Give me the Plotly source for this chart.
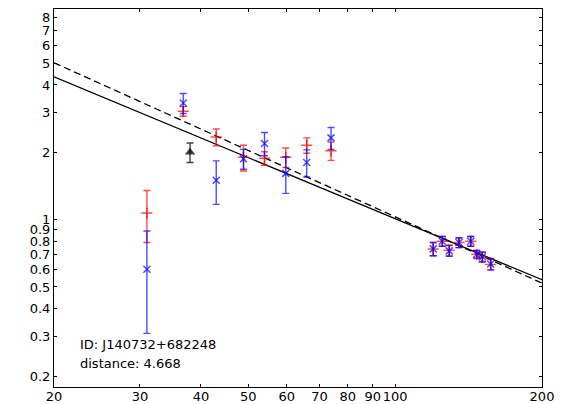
import numpy as np
import plotly.graph_objects as go

# ---- data ----
x_pts = [31.0, 36.8, 43.0, 48.9, 54.0, 59.7, 65.9, 73.9,
         119.7, 124.9, 129.1, 135.2, 142.9, 147.0, 150.9, 157.0]
red_y = [1.07, 3.05, 2.34, 1.90, 1.88, 1.90, 2.15, 2.03,
         0.74, 0.80, 0.73, 0.79, 0.80, 0.70, 0.68, 0.63]
red_err = [0.28, 0.15, 0.20, 0.25, 0.13, 0.19, 0.17, 0.19,
           0.05, 0.04, 0.04, 0.04, 0.04, 0.03, 0.035, 0.035]
blue_y = [0.60, 3.32, 1.50, 1.87, 2.19, 1.61, 1.80, 2.32,
          0.74, 0.80, 0.725, 0.79, 0.80, 0.70, 0.683, 0.633]
blue_err = [0.29, 0.34, 0.33, 0.19, 0.26, 0.30, 0.25, 0.26,
            0.05, 0.04, 0.04, 0.04, 0.04, 0.027, 0.033, 0.037]
black_x = [38.0]
black_y = [2.0]
black_err = [0.2]

# power-law fits  y = A * (x/100)**alpha
fit_solid = {"A": 1.01, "alpha": -0.907}
fit_dashed = {"A": 1.03, "alpha": -0.985}
fit_x = [20, 200]

x_ticks = [20, 30, 40, 50, 60, 70, 80, 90, 100, 200]
y_ticks = [0.2, 0.3, 0.4, 0.5, 0.6, 0.7, 0.8, 0.9, 1, 2, 3, 4, 5, 6, 7, 8]
x_range = [20, 200]
y_range = [0.1786, 8.74]

label_id = "ID: J140732+682248"
label_dist = "distance: 4.668"

FONT = "DejaVu Sans"
RED = "rgba(255,0,0,0.7)"
BLUE = "rgba(0,0,255,0.7)"
BLACK = "rgba(0,0,0,0.75)"

fig = go.Figure()

def powerlaw(p, xs):
    xs = np.asarray(xs, dtype=float)
    return p["A"] * (xs / 100.0) ** p["alpha"]

fig.add_trace(go.Scatter(x=fit_x, y=powerlaw(fit_solid, fit_x), mode="lines",
                         line=dict(color="black", width=1.3), hoverinfo="skip"))
fig.add_trace(go.Scatter(x=fit_x, y=powerlaw(fit_dashed, fit_x), mode="lines",
                         line=dict(color="black", width=1.3, dash="7px,4px"), hoverinfo="skip"))

fig.add_trace(go.Scatter(
    x=x_pts, y=red_y, mode="markers",
    marker=dict(symbol="cross-thin-open", size=8, color=RED, line=dict(color=RED, width=1.5)),
    error_y=dict(type="data", array=red_err, color=RED, thickness=1.4, width=3.5)))

fig.add_trace(go.Scatter(
    x=x_pts, y=blue_y, mode="markers",
    marker=dict(symbol="x-thin-open", size=7, color=BLUE, line=dict(color=BLUE, width=1.5)),
    error_y=dict(type="data", array=blue_err, color=BLUE, thickness=1.4, width=3.5)))

fig.add_trace(go.Scatter(
    x=black_x, y=black_y, mode="markers",
    marker=dict(symbol="triangle-up", size=9, color=BLACK, line=dict(width=0)),
    error_y=dict(type="data", array=black_err, color=BLACK, thickness=1.4, width=3.5)))

axis_common = dict(
    type="log", showgrid=False, zeroline=False, automargin=False,
    showline=True, linecolor="black", linewidth=1, mirror="ticks",
    ticks="inside", ticklen=3, tickwidth=1, tickcolor="black", tickangle=0,
    tickfont=dict(family=FONT, size=13, color="black"),
)

eps = 1e-6
fig.update_layout(
    width=561, height=404,
    margin=dict(l=54, r=19, t=9, b=17),
    paper_bgcolor="white", plot_bgcolor="white",
    showlegend=False,
    xaxis=dict(range=[np.log10(x_range[0]) - eps, np.log10(x_range[1]) + eps],
               tickvals=x_ticks, ticktext=[str(v) for v in x_ticks],
               ticklabelstandoff=-3, **axis_common),
    yaxis=dict(range=[np.log10(y_range[0]), np.log10(y_range[1])],
               tickvals=y_ticks, ticktext=[str(v) for v in y_ticks], **axis_common),
    annotations=[
        dict(text=label_id, xref="paper", yref="paper", x=0.049, y=0.113,
             xanchor="left", yanchor="middle", showarrow=False,
             font=dict(family=FONT, size=13, color="black")),
        dict(text=label_dist, xref="paper", yref="paper", x=0.049, y=0.0627,
             xanchor="left", yanchor="middle", showarrow=False,
             font=dict(family=FONT, size=13, color="black")),
    ],
)

fig.write_html("out.html")
